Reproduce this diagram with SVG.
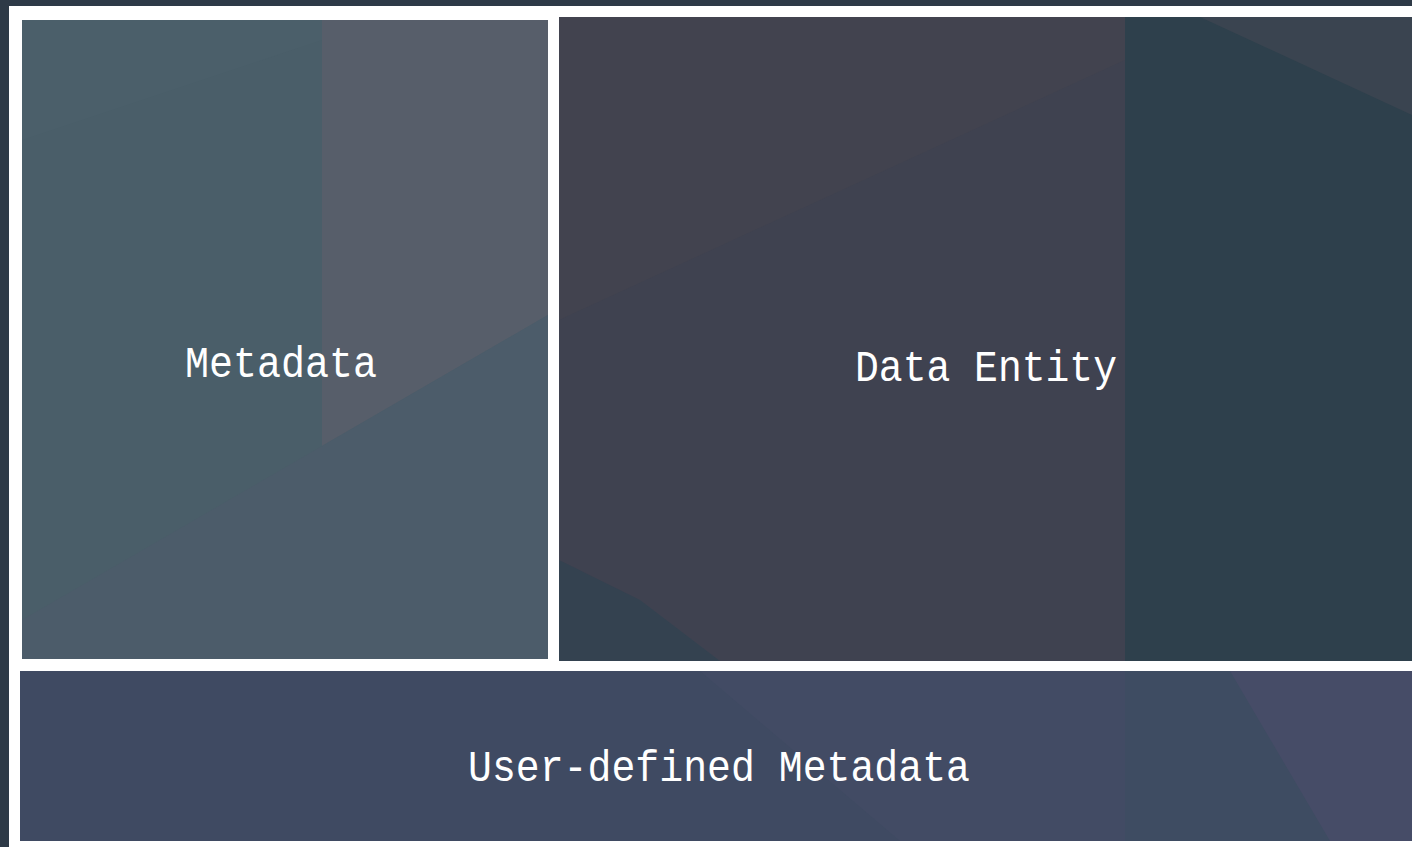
<svg xmlns="http://www.w3.org/2000/svg" width="1412" height="847" viewBox="0 0 1412 847">
  <style>
    .lbl { font-family: "Liberation Mono", "DejaVu Sans Mono", monospace; font-size: 44px; fill: #ffffff; }
  </style>
  <defs>
    <clipPath id="cMeta"><rect x="22" y="20" width="526" height="639"/></clipPath>
    <clipPath id="cData"><rect x="559" y="17" width="853" height="644"/></clipPath>
    <clipPath id="cUser"><rect x="20" y="671" width="1392" height="170"/></clipPath>
  </defs>
  <rect x="0" y="0" width="1412" height="847" fill="#2e3a47"/>
  <rect x="9" y="6" width="1403" height="841" fill="#ffffff"/>

  <g id="metadata">
    <rect x="22" y="20" width="526" height="639" fill="#4a5e69"/>
    <g clip-path="url(#cMeta)">
      <polygon points="322,20 548,20 548,315 322,446" fill="#575e6a"/>
      <polygon points="22,20 322,20 322,40 22,140" fill="#4b5f6a" opacity="0.8"/>
      <polygon points="22,620 548,315 548,659 22,659" fill="#4c5c6a"/>
    </g>
    <text class="lbl" x="281" y="377" text-anchor="middle" textLength="192" lengthAdjust="spacingAndGlyphs">Metadata</text>
  </g>

  <g id="data-entity">
    <rect x="559" y="17" width="853" height="644" fill="#3f4250"/>
    <g clip-path="url(#cData)">
      <polygon points="559,17 1125,17 1125,60 559,320" fill="#42434f"/>
      <polygon points="1125,17 1412,17 1412,661 1125,661" fill="#2e404c"/>
      <polygon points="1200,17 1412,17 1412,115" fill="#3a4450"/>
      <polygon points="559,560 640,600 720,661 559,661" fill="#344250"/>
    </g>
    <text class="lbl" x="986" y="381" text-anchor="middle" textLength="262" lengthAdjust="spacingAndGlyphs">Data Entity</text>
  </g>

  <g id="user-defined-metadata">
    <rect x="20" y="671" width="1392" height="170" fill="#3f4a62"/>
    <g clip-path="url(#cUser)">
      <polygon points="700,671 1125,671 1125,841 900,841" fill="#424b64"/>
      <polygon points="1125,671 1412,671 1412,841 1125,841" fill="#3e4c62"/>
      <polygon points="1230,671 1412,671 1412,841 1330,841" fill="#464c67"/>
    </g>
    <text class="lbl" x="719" y="781" text-anchor="middle" textLength="502" lengthAdjust="spacingAndGlyphs">User-defined Metadata</text>
  </g>
</svg>
